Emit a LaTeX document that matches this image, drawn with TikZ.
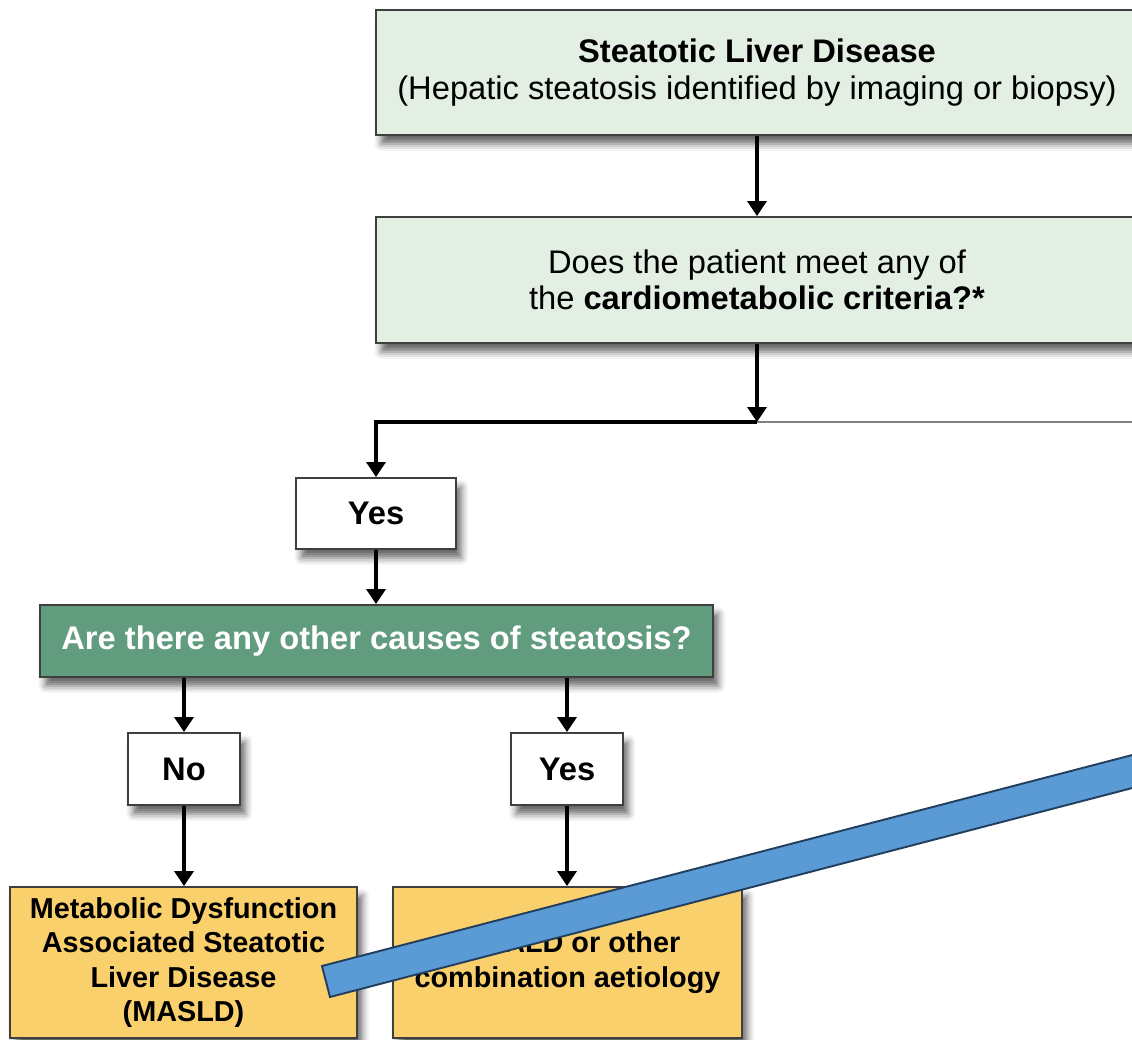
\documentclass[tikz,border=0pt]{standalone}
\usepackage{fontspec}
\setmainfont{Liberation Sans}
\usetikzlibrary{positioning, arrows.meta, shadows.blur}

\definecolor{boxline}{HTML}{3F3F3F}
\definecolor{palegreen}{HTML}{E2EFE2}
\definecolor{causegreen}{HTML}{629C7F}
\definecolor{outcomeyellow}{HTML}{F9D06C}
\definecolor{barblue}{HTML}{5B9BD5}
\definecolor{bardark}{HTML}{233F5E}

\newcommand{\pxu}{0.02cm}

\begin{document}
\begin{tikzpicture}[x=0.02cm, y=-0.02cm,
        box/.style={draw=boxline, line width=1.1pt, align=center, inner sep=0pt,
            blur shadow={shadow xshift=3pt, shadow yshift=-5pt, shadow blur radius=4pt, shadow opacity=60}},
        question/.style={box, fill=palegreen, minimum width=762*\pxu, font=\fontsize{18.6}{20.6}\selectfont},
        answer/.style={box, fill=white, minimum height=72*\pxu, font=\bfseries\fontsize{18.6}{20.6}\selectfont},
        outcome/.style={box, fill=outcomeyellow, minimum height=151*\pxu, font=\bfseries\fontsize{16.4}{19.6}\selectfont},
        link/.style={line width=2pt, -{Triangle[length=0.3cm, width=0.38cm]}}]
    \useasboundingbox (0,0) rectangle (1132,1040);
    \clip (0,0) rectangle (1132,1040);

    % top of the chart
    \node[question, minimum height=125*\pxu] (sld) at (757,72.5) {\textbf{Steatotic Liver Disease}\\(Hepatic steatosis identified by imaging or biopsy)};
    \node[question, minimum height=126*\pxu] (criteria) at (757,280) {Does the patient meet any of\\the \textbf{cardiometabolic criteria?*}};
    \coordinate (split) at (757,422);
    \coordinate (cut) at (1132,422);

    % yes branch
    \node[answer, minimum width=160*\pxu, minimum height=71*\pxu] (yes) at (376,513.5) {Yes};
    \node[box, fill=causegreen, text=white, minimum width=673*\pxu, minimum height=72*\pxu,
        font=\bfseries\fontsize{18.6}{20.6}\selectfont] (causes) at (376.5,641) {Are there any other causes of steatosis?};
    \node[answer, minimum width=112*\pxu] (no) at (184,769) {No};
    \node[answer, minimum width=112*\pxu] (yesother) at (567,769) {Yes};
    \node[outcome, minimum width=347*\pxu] (masld) at (183.5,962.5) {Metabolic Dysfunction\\Associated Steatotic\\Liver Disease\\(MASLD)};
    \node[outcome, minimum width=349*\pxu] (metald) at (567.5,962.5) {MetALD or other\\combination aetiology};

    \draw[link] (sld) -- (criteria);
    \draw[link] (criteria) -- (split);
    \draw[link] (split) -| (yes);
    \draw[line width=0.6pt, gray] (split) -- (cut);
    \draw[link] (yes) -- (yes |- causes.north);
    \draw[link] (causes.south -| no) -- (no);
    \draw[link] (causes.south -| yesother) -- (yesother);
    \draw[link] (no) -- (no |- masld.north);
    \draw[link] (yesother) -- (yesother |- metald.north);

    % blue bar laid over the chart
    \draw[fill=barblue, draw=bardark, line width=1.1pt] (322,966) -- (1140,753) -- (1140,786) -- (330,997) -- cycle;
\end{tikzpicture}
\end{document}
